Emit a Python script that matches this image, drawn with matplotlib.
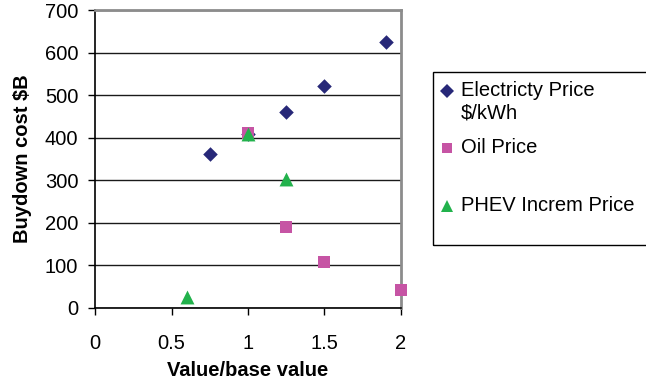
import matplotlib
matplotlib.use("Agg")
import matplotlib.pyplot as plt
from matplotlib.lines import Line2D
from matplotlib.patches import Rectangle

plt.rcParams['font.family'] = ['Liberation Sans', 'DejaVu Sans']

elec_x = [0.75, 1.0, 1.25, 1.5, 1.9]
elec_y = [362, 408, 461, 521, 624]
oil_x = [1.0, 1.25, 1.5, 2.0]
oil_y = [410, 190, 107, 42]
phev_x = [0.6, 1.0, 1.25]
phev_y = [24, 408, 302]

series_labels = ["Electricty Price\n$/kWh", "Oil Price", "PHEV Increm Price"]
xticks = [0, 0.5, 1, 1.5, 2]
xtick_labels = ["0", "0.5", "1", "1.5", "2"]
yticks = [0, 100, 200, 300, 400, 500, 600, 700]

c_elec = '#272878'
c_oil = '#C654A4'
c_phev = '#22B24C'

FS = 14.5

W, H = 646, 386
fig = plt.figure(figsize=(W / 100, H / 100), dpi=100)
ax = fig.add_axes([95 / W, 1 - 307.7 / H, (401 - 95) / W, (307.7 - 10) / H])

ax.scatter(elec_x, elec_y, marker='D', s=55, color=c_elec, zorder=3, linewidths=0)
ax.scatter(oil_x, oil_y, marker='s', s=70, color=c_oil, zorder=3, linewidths=0, clip_on=False)
ax.scatter(phev_x, phev_y, marker='^', s=100, color=c_phev, zorder=4, linewidths=0)

ax.set_xlim(0, 2)
ax.set_ylim(0, 700)
ax.set_xticks(xticks)
ax.set_xticklabels(xtick_labels)
ax.set_yticks(yticks)
ax.yaxis.grid(True, color='#1a1a1a', linewidth=1.0)
ax.set_axisbelow(True)
ax.tick_params(axis='both', direction='out', length=5, width=1, labelsize=FS, colors='black')
ax.tick_params(axis='x', pad=14)
ax.tick_params(axis='y', pad=7)
for s in ['left', 'bottom']:
    ax.spines[s].set_color('black')
    ax.spines[s].set_linewidth(1.2)
for s in ['top', 'right']:
    ax.spines[s].set_color('#8C8C8C')
    ax.spines[s].set_linewidth(2)

ax.set_xlabel("Value/base value", fontsize=FS, fontweight='bold', labelpad=6)
ax.set_ylabel("Buydown cost $B", fontsize=FS, fontweight='bold', labelpad=9)

# legend (manual, Excel-like layout)
def fx(px):
    return px / W

def fy(py):
    return 1 - py / H

fig.patches.append(Rectangle((fx(433), fy(245)), fx(646 + 20) - fx(433), fy(72) - fy(245),
                             transform=fig.transFigure, fill=False, edgecolor='black',
                             linewidth=1.0, clip_on=False))
entries = [('D', 7, c_elec, 91, 92, series_labels[0]),
           ('s', 7.5, c_oil, 148, 149, series_labels[1]),
           ('^', 9, c_phev, 206, 207, series_labels[2])]
for m, ms, col, my, ty, lab in entries:
    fig.lines.append(Line2D([fx(447)], [fy(my)], marker=m, markersize=ms, color=col,
                            linestyle='none', transform=fig.transFigure, markeredgewidth=0))
    fig.text(fx(461), fy(ty - 11), lab, fontsize=FS, va='top', ha='left',
             linespacing=1.2)

fig.savefig("out.png", dpi=100)
